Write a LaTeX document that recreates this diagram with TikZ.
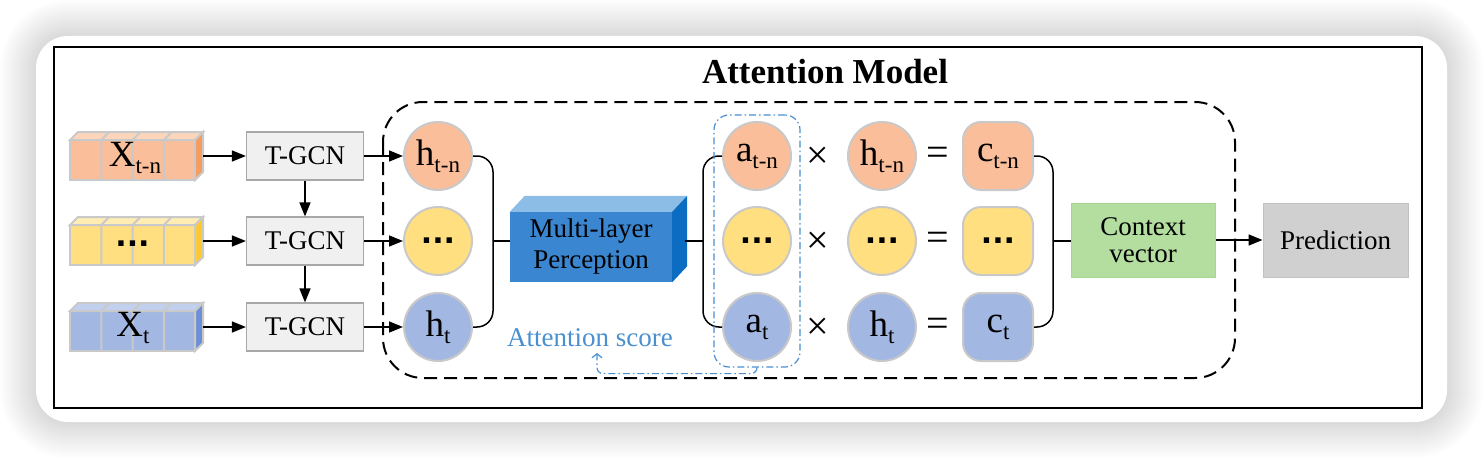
\documentclass[tikz,border=0pt]{standalone}
\usepackage{fontspec}
\setmainfont{Liberation Serif}
\newfontfamily\dotfont{DejaVu Sans}
\usetikzlibrary{arrows.meta,calc}
\definecolor{orF}{HTML}{FBBE9A}
\definecolor{orTop}{HTML}{FDD5BB}
\definecolor{orSide}{HTML}{F79B5F}
\definecolor{yeF}{HTML}{FFDF80}
\definecolor{yeTop}{HTML}{FFEDB3}
\definecolor{yeSide}{HTML}{FFC92E}
\definecolor{blF}{HTML}{A3B7E3}
\definecolor{blTop}{HTML}{C2D0EF}
\definecolor{blSide}{HTML}{6E8FD6}
\definecolor{edgeGray}{HTML}{C9C9C9}
\definecolor{tgcnF}{HTML}{F0F0F0}
\definecolor{tgcnD}{HTML}{A8A8A8}
\definecolor{mlpF}{HTML}{3A86D0}
\definecolor{mlpTop}{HTML}{8CBDE6}
\definecolor{mlpSide}{HTML}{0B6CC2}
\definecolor{ctxF}{HTML}{B3DEA0}
\definecolor{ctxD}{HTML}{A6D690}
\definecolor{predF}{HTML}{D0D0D0}
\definecolor{predD}{HTML}{C2C2C2}
\definecolor{attBlue}{HTML}{4A90D0}
\newcommand\sub[1]{\raisebox{-7pt}{\fontsize{23}{23}\selectfont #1}}
\newcommand\inblock[4]{%
  \filldraw[fill=#2,draw=edgeGray,line width=2pt] (70,#1+8) rectangle (195,#1+48);
  \filldraw[fill=#3,draw=edgeGray,line width=2pt] (70,#1+8) -- (78,#1) -- (203,#1) -- (195,#1+8) -- cycle;
  \filldraw[fill=#4,draw=edgeGray,line width=2pt] (195,#1+8) -- (203,#1) -- (203,#1+40) -- (195,#1+48) -- cycle;
  \foreach \xx in {101.25,132.5,163.75} {\draw[edgeGray,line width=2pt] (\xx,#1+48) -- (\xx,#1+8) -- (\xx+8,#1);}
}
\tikzset{
  lbl/.style={font=\fontsize{27}{31}\selectfont, align=center},
  circ/.style={circle, minimum size=68pt, inner sep=0pt, draw=edgeGray, line width=2pt, font=\fontsize{37}{37}\selectfont},
  csq/.style={rectangle, rounded corners=18pt, minimum width=70pt, minimum height=68pt, inner sep=0pt, draw=edgeGray, line width=2pt, font=\fontsize{37}{37}\selectfont},
  tgcn/.style={lbl, rectangle, minimum width=117pt, minimum height=48pt, fill=tgcnF, draw=tgcnD, line width=1.2pt},
  conn/.style={line width=1.5pt, black},
  arr/.style={conn, -{Triangle[length=14pt,width=11pt]}},
  op/.style={font=\fontsize{40}{40}\selectfont, inner sep=0pt},
  dots/.style={font=\dotfont\fontsize{30}{30}\selectfont\bfseries},
}
\begin{document}
\begin{tikzpicture}[x=1pt,y=-1pt]
\useasboundingbox (0,0) rectangle (1484,460);
\fill[white] (0,0) rectangle (1484,460);
% shadow of the card
\foreach \k in {1,...,18} {
  \pgfmathsetmacro\rr{32+2*\k}
  \fill[black,opacity=0.006,rounded corners=\rr pt] ({36-2*\k},{36-2*\k}) rectangle ({1447+2*\k},{422+2*\k});
}
\fill[white,rounded corners=32pt] (36,36) rectangle (1447,422);
\node[draw, line width=2pt, minimum width=1368pt, minimum height=361pt, inner sep=0pt] (frame) at (738,227.5) {};
\node[font=\fontsize{35}{40}\selectfont\bfseries] (title) at (825,72) {Attention Model};
\draw[line width=2pt, dash pattern=on 13pt off 7pt, rounded corners=40pt] (383,102) rectangle (1235,378);

% input blocks
\inblock{132}{orF}{orTop}{orSide}
\inblock{217}{yeF}{yeTop}{yeSide}
\inblock{303}{blF}{blTop}{blSide}
\node[minimum width=133pt, minimum height=48pt, inner sep=0pt] (b1) at (136.5,156) {};
\node[minimum width=133pt, minimum height=48pt, inner sep=0pt] (b2) at (136.5,241) {};
\node[minimum width=133pt, minimum height=48pt, inner sep=0pt] (b3) at (136.5,327) {};
\node[font=\fontsize{37}{37}\selectfont] (lb1) at (135,158) {X\sub{t-n}};
\node[dots] (lb2) at (132.5,244) {...};
\node[font=\fontsize{37}{37}\selectfont] (lb3) at (133,328) {X\sub{t}};

% T-GCN
\node[tgcn] (t1) at (305,156) {T-GCN};
\node[tgcn] (t2) at (305,241) {T-GCN};
\node[tgcn] (t3) at (305,327) {T-GCN};
\draw[arr] (b1.east) -- (t1.west);
\draw[arr] (b2.east) -- (t2.west);
\draw[arr] (b3.east) -- (t3.west);
\draw[arr] (t1.south) -- (t2.north);
\draw[arr] (t2.south) -- (t3.north);

% h circles
\node[circ, fill=orF] (h1) at (438,156) {h\sub{t-n}};
\node[circ, fill=yeF, dots] (h2) at (438,241) {...};
\node[circ, fill=blF] (h3) at (438,327) {h\sub{t}};
\draw[arr] (t1.east) -- (h1.west);
\draw[arr] (t2.east) -- (h2.west);
\draw[arr] (t3.east) -- (h3.west);

% MLP
\node[lbl, minimum width=162pt, minimum height=70pt, fill=mlpF, inner sep=0pt] (mlp) at (591,247) {Multi-layer\\Perception};
\fill[mlpTop] (mlp.north west) -- ++(15,-16) -- ($(mlp.north east)+(15,-16)$) -- (mlp.north east) -- cycle;
\fill[mlpSide] (mlp.north east) -- ++(15,-16) -- ($(mlp.south east)+(15,-16)$) -- (mlp.south east) -- cycle;

\coordinate (bl) at (493,241);
\coordinate (br) at (703,241);
\coordinate (mlpr) at (685,241);
\draw[conn, rounded corners=16pt] (h1.east) -| (bl) |- (h3.east);
\draw[conn] (bl) -- (bl -| mlp.west);
\draw[conn] (mlpr) -- (br);

% a circles
\node[circ, fill=orF] (a1) at (757,156) {a\sub{t-n}};
\node[circ, fill=yeF, dots] (a2) at (757,241) {...};
\node[circ, fill=blF] (a3) at (757,327) {a\sub{t}};
\draw[conn, rounded corners=16pt] (a1.west) -| (br) |- (a3.west);

% operators
\node[op] (m1) at (818,158) {×};
\node[op] (m2) at (818,243) {×};
\node[op] (m3) at (818,329) {×};
\node[circ, fill=orF] (g1) at (882,156) {h\sub{t-n}};
\node[circ, fill=yeF, dots] (g2) at (882,241) {...};
\node[circ, fill=blF] (g3) at (882,327) {h\sub{t}};
\node[op] (e1) at (938,156) {=};
\node[op] (e2) at (938,241) {=};
\node[op] (e3) at (938,327) {=};

% c squares
\node[csq, fill=orF] (c1) at (998,156) {c\sub{t-n}};
\node[csq, fill=yeF, dots] (c2) at (998,241) {...};
\node[csq, fill=blF] (c3) at (998,327) {c\sub{t}};
\coordinate (cr) at (1053,241);
\draw[conn, rounded corners=16pt] (c1.east) -| (cr) |- (c3.east);

% context and prediction
\node[lbl, minimum width=144pt, minimum height=74pt, fill=ctxF, draw=ctxD, line width=1pt] (ctx) at (1143,240) {Context\\[-4pt]vector};
\node[lbl, minimum width=145pt, minimum height=74pt, fill=predF, draw=predD, line width=1pt] (pred) at (1335.5,240) {Prediction};
\draw[conn] (cr) -- (cr -| ctx.west);
\draw[arr] (ctx.east) -- (pred.west);

% attention score
\node[draw=attBlue, line width=1.2pt, dash pattern=on 7pt off 3pt on 1.5pt off 3pt, rounded corners=15pt, minimum width=86pt, minimum height=252pt, inner sep=0pt] (attbox) at (757,241) {};
\node[lbl, text=attBlue] (atts) at (590,338) {Attention score};
\coordinate (attarr) at (597,353);
\draw[attBlue, line width=1.2pt, dash pattern=on 7pt off 3pt on 1.5pt off 3pt, rounded corners=6pt, -{Straight Barb[length=4pt,width=10pt]}] (attbox.south) -- ++(0,6) -| (attarr);
\end{tikzpicture}
\end{document}
